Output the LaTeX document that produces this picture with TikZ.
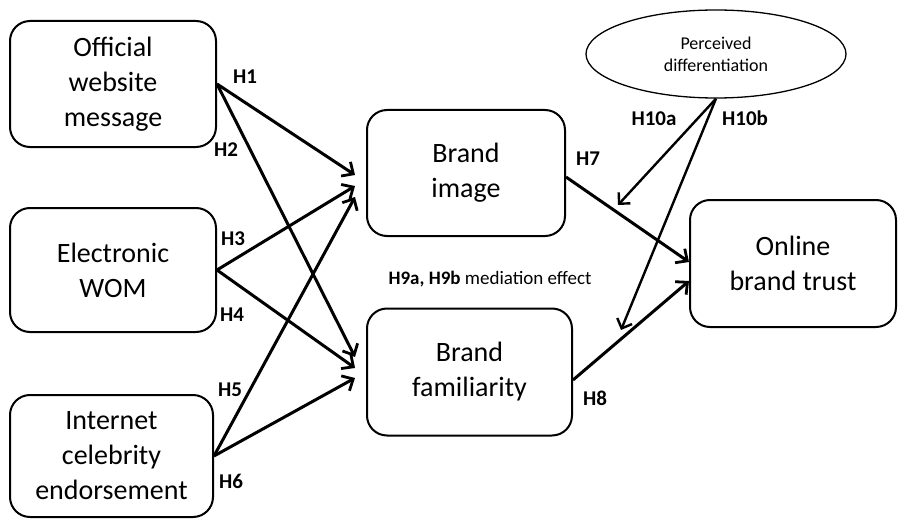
\documentclass[tikz,border=0pt]{standalone}
\usepackage{fontspec}
\setmainfont{Carlito}
\usetikzlibrary{arrows.meta,shapes.geometric}
\tikzset{
  construct/.style={draw, line width=2pt, rounded corners=20pt, align=center,
    font=\fontsize{28}{35}\selectfont},
  hyp/.style={line width=3pt, -{Straight Barb[length=9pt,width=17pt,line width=2.8pt]}},
  moder/.style={line width=2.4pt, -{Straight Barb[length=8pt,width=16pt,line width=2.4pt]}},
  hlabel/.style={font=\fontsize{21}{22}\selectfont\bfseries},
}
\begin{document}
\begin{tikzpicture}[x=1pt, y=-1pt]
    \useasboundingbox (0, 0) rectangle (898, 519);
    % antecedents
    \node [construct, minimum width=206pt, minimum height=126pt] (web) at (113, 84) {Official\\website\\message};
    \node [construct, minimum width=206pt, minimum height=124pt] (wom) at (113, 270) {Electronic\\WOM};
    \node [construct, minimum width=203pt, minimum height=122pt] (celeb) at (111.5, 456) {Internet\\celebrity\\endorsement};
    % mediators
    \node [construct, minimum width=198pt, minimum height=126pt] (image) at (466, 173) {Brand\\image};
    \node [construct, minimum width=205pt, minimum height=127pt] (famil) at (469.5, 372) {Brand\\familiarity};
    % outcome
    \node [construct, minimum width=206pt, minimum height=127pt] (trust) at (793, 263.5) {Online\\brand trust};
    % moderator
    \node [draw, ellipse, line width=1.3pt, minimum width=260pt, minimum height=88pt, align=center,
      font=\fontsize{18}{22}\selectfont] (perc) at (716, 54) {Perceived\\differentiation};
    % arrow ends
    \coordinate (img1) at (355, 175);
    \coordinate (img2) at (355, 186);
    \coordinate (img3) at (355, 197);
    \coordinate (fam1) at (355, 357);
    \coordinate (fam2) at (355, 368);
    \coordinate (fam3) at (355, 378);
    \coordinate (tr1) at (689, 262);
    \coordinate (tr2) at (689, 281);
    \coordinate (mod1) at (618, 205);
    \coordinate (mod2) at (621, 330);
    % H1 - H6
    \draw [hyp] (web.east) -- (img1);
    \draw [hyp] (web.east) -- (fam1);
    \draw [hyp] (wom.east) -- (img2);
    \draw [hyp] (wom.east) -- (fam2);
    \draw [hyp] (celeb.east) -- (img3);
    \draw [hyp] (celeb.east) -- (fam3);
    % H7, H8
    \draw [hyp] ([yshift=-4pt]image.east) -- (tr1);
    \draw [hyp] ([yshift=-8pt]famil.east) -- (tr2);
    % H10a, H10b
    \draw [moder] (perc.south) -- (mod1);
    \draw [moder] (perc.south) -- (mod2);
    % hypothesis labels
    \node [hlabel] (h1) at (245, 77) {H1};
    \node [hlabel] (h2) at (226, 150) {H2};
    \node [hlabel] (h3) at (233, 239) {H3};
    \node [hlabel] (h4) at (232, 315) {H4};
    \node [hlabel] (h5) at (230, 390) {H5};
    \node [hlabel] (h6) at (231, 481) {H6};
    \node [hlabel] (h7) at (588, 159) {H7};
    \node [hlabel] (h8) at (595, 398) {H8};
    \node [hlabel] (h10a) at (654, 119) {H10a};
    \node [hlabel] (h10b) at (745, 118) {H10b};
    % mediation label
    \node [font=\fontsize{19}{21}\selectfont] (med) at (490, 279) {\textbf{H9a, H9b} mediation effect};
\end{tikzpicture}
\end{document}
